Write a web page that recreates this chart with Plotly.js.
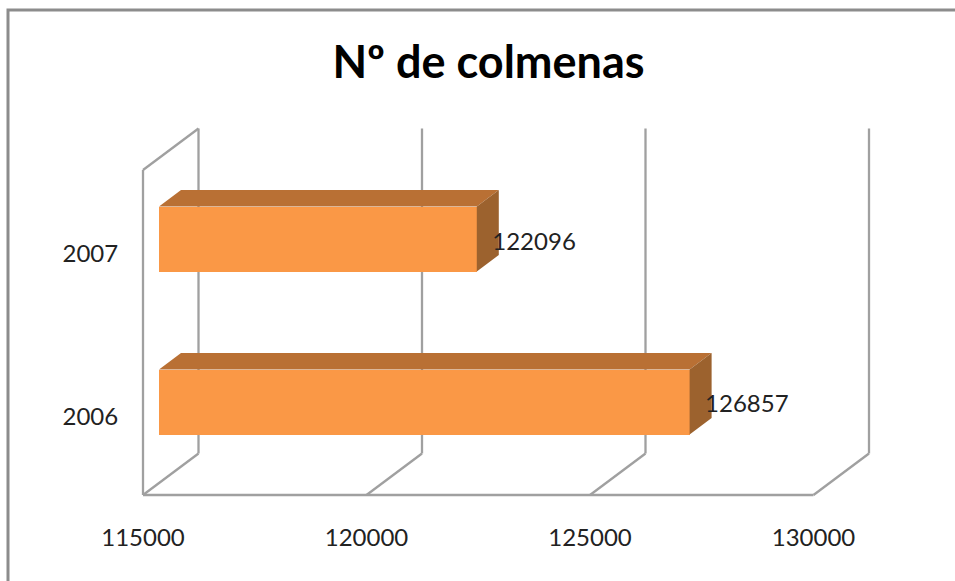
<!DOCTYPE html>
<html>
<head>
<meta charset="utf-8">
<script src="https://cdn.plot.ly/plotly-3.0.1.min.js"></script>
<style>html,body{margin:0;padding:0;background:#fff;overflow:hidden}#c{width:955px;height:581px}</style>
</head>
<body>
<div id="c"></div>
<script>
const categories = ['2006', '2007'];
const colmenas = [126857, 122096];
const xTicks = [115000, 120000, 125000, 130000];
const chartTitle = 'Nº de colmenas';

const W = 955, H = 581;
const plot = {l: 138, r: 875, t: 120, b: 500};
const xFront = 143, xPerUnit = (813.5 - 143) / 15000;
const catPx = [417, 254], yPerPos = 163;
const floorPx = 495, depthPx = {x: 55.5, y: 41.5}, wallTopPx = 128.5;
const bar = {dx: 16, up: 15, h: 65, depthX: 22, depthY: 16.5};
const labelGapPx = 15.5, labelUpPx = [11.5, 10];

const toX = px => 115000 + (px - xFront) / xPerUnit;
const toY = px => (catPx[0] - px) / yPerPos;
const dX = px => px / xPerUnit;
const dY = px => px / yPerPos;
const positions = categories.map((_, i) => i);
const base = 115000 + dX(bar.dx);

function face(build) {
  const xa = [], ya = [];
  colmenas.forEach((v, i) => {
    build(v, positions[i]).forEach(p => { xa.push(p[0]); ya.push(p[1]); });
    xa.push(null); ya.push(null);
  });
  return {x: xa, y: ya};
}
const lowY = p => p + dY(bar.up - bar.h / 2);
const highY = p => p + dY(bar.up + bar.h / 2);
const endX = v => v + dX(bar.dx + 0.6);

const topFace = face((v, p) => [
  [base, highY(p)],
  [endX(v), highY(p)],
  [endX(v) + dX(bar.depthX), highY(p) + dY(bar.depthY)],
  [base + dX(bar.depthX), highY(p) + dY(bar.depthY)],
  [base, highY(p)]
]);
const sideFace = face((v, p) => [
  [endX(v), highY(p)],
  [endX(v) + dX(bar.depthX), highY(p) + dY(bar.depthY)],
  [endX(v) + dX(bar.depthX), lowY(p) + dY(bar.depthY)],
  [endX(v), lowY(p)],
  [endX(v), highY(p)]
]);

const traces = [
  {type: 'bar', orientation: 'h', y: positions, x: colmenas.map(v => endX(v) - base), base: base,
   width: dY(bar.h), offset: dY(bar.up - bar.h / 2),
   marker: {color: '#FA9846', line: {width: 0}}, hoverinfo: 'skip', showlegend: false},
  {type: 'scatter', mode: 'lines', x: topFace.x, y: topFace.y, fill: 'toself', fillcolor: '#B97034',
   line: {width: 0, color: '#B97034'}, hoverinfo: 'skip', showlegend: false},
  {type: 'scatter', mode: 'lines', x: sideFace.x, y: sideFace.y, fill: 'toself', fillcolor: '#9C622E',
   line: {width: 0, color: '#9C622E'}, hoverinfo: 'skip', showlegend: false},
  {type: 'scatter', mode: 'text', x: colmenas.map(v => endX(v) + dX(labelGapPx)),
   y: positions.map((p, i) => p + dY(labelUpPx[i])),
   text: colmenas.map(String), textposition: 'middle right', cliponaxis: false,
   textfont: {family: 'Lato, sans-serif', size: 24, color: '#222'}, hoverinfo: 'skip', showlegend: false}
];

const wall = {color: '#A0A0A0', width: 2.3};
const shapes = [];
const seg = (x0, y0, x1, y1) => shapes.push({type: 'line', xref: 'x', yref: 'y', layer: 'below',
  x0: x0, y0: y0, x1: x1, y1: y1, line: wall});
const yFloor = toY(floorPx), yBackFloor = toY(floorPx - depthPx.y), yWallTop = toY(wallTopPx);
xTicks.forEach(t => {
  seg(t, yFloor, t + dX(depthPx.x), yBackFloor);
  seg(t + dX(depthPx.x), yBackFloor, t + dX(depthPx.x), yWallTop);
});
seg(xTicks[0], yFloor, xTicks[xTicks.length - 1], yFloor);
seg(xTicks[0], yFloor, xTicks[0], toY(wallTopPx + depthPx.y));
seg(xTicks[0], toY(wallTopPx + depthPx.y), xTicks[0] + dX(depthPx.x), yWallTop);

const px = v => (v - plot.l) / (plot.r - plot.l);
const py = v => 1 - (v - plot.t) / (plot.b - plot.t);
shapes.push({type: 'path', xref: 'paper', yref: 'paper', layer: 'below',
  path: `M ${px(8)} ${py(585)} L ${px(8)} ${py(10)} L ${px(960)} ${py(10)}`,
  line: {color: '#8C8C8C', width: 3}});

const layout = {
  width: W, height: H,
  margin: {l: plot.l, r: W - plot.r, t: plot.t, b: H - plot.b, pad: 0},
  paper_bgcolor: '#fff', plot_bgcolor: 'rgba(0,0,0,0)',
  showlegend: false, bargap: 0,
  title: {text: '<b>' + chartTitle + '</b>', x: 488.5 / W, xanchor: 'center', y: 1 - 62 / H, yanchor: 'middle',
          font: {family: 'Lato, sans-serif', size: 45, color: '#000'}},
  xaxis: {range: [toX(plot.l), toX(plot.r)], tickmode: 'array', tickvals: xTicks, ticktext: xTicks.map(String),
          ticks: 'outside', ticklen: 16, tickcolor: 'rgba(0,0,0,0)', showgrid: false, zeroline: false, showline: false,
          tickfont: {family: 'Lato, sans-serif', size: 24, color: '#222'}},
  yaxis: {range: [toY(plot.b), toY(plot.t)], tickmode: 'array', tickvals: positions, ticktext: categories,
          ticks: 'outside', ticklen: 14, tickcolor: 'rgba(0,0,0,0)', showgrid: false, zeroline: false, showline: false,
          tickfont: {family: 'Lato, sans-serif', size: 24, color: '#222'}},
  shapes: shapes
};
Plotly.newPlot('c', traces, layout, {displayModeBar: false, staticPlot: true});
</script>
</body>
</html>
